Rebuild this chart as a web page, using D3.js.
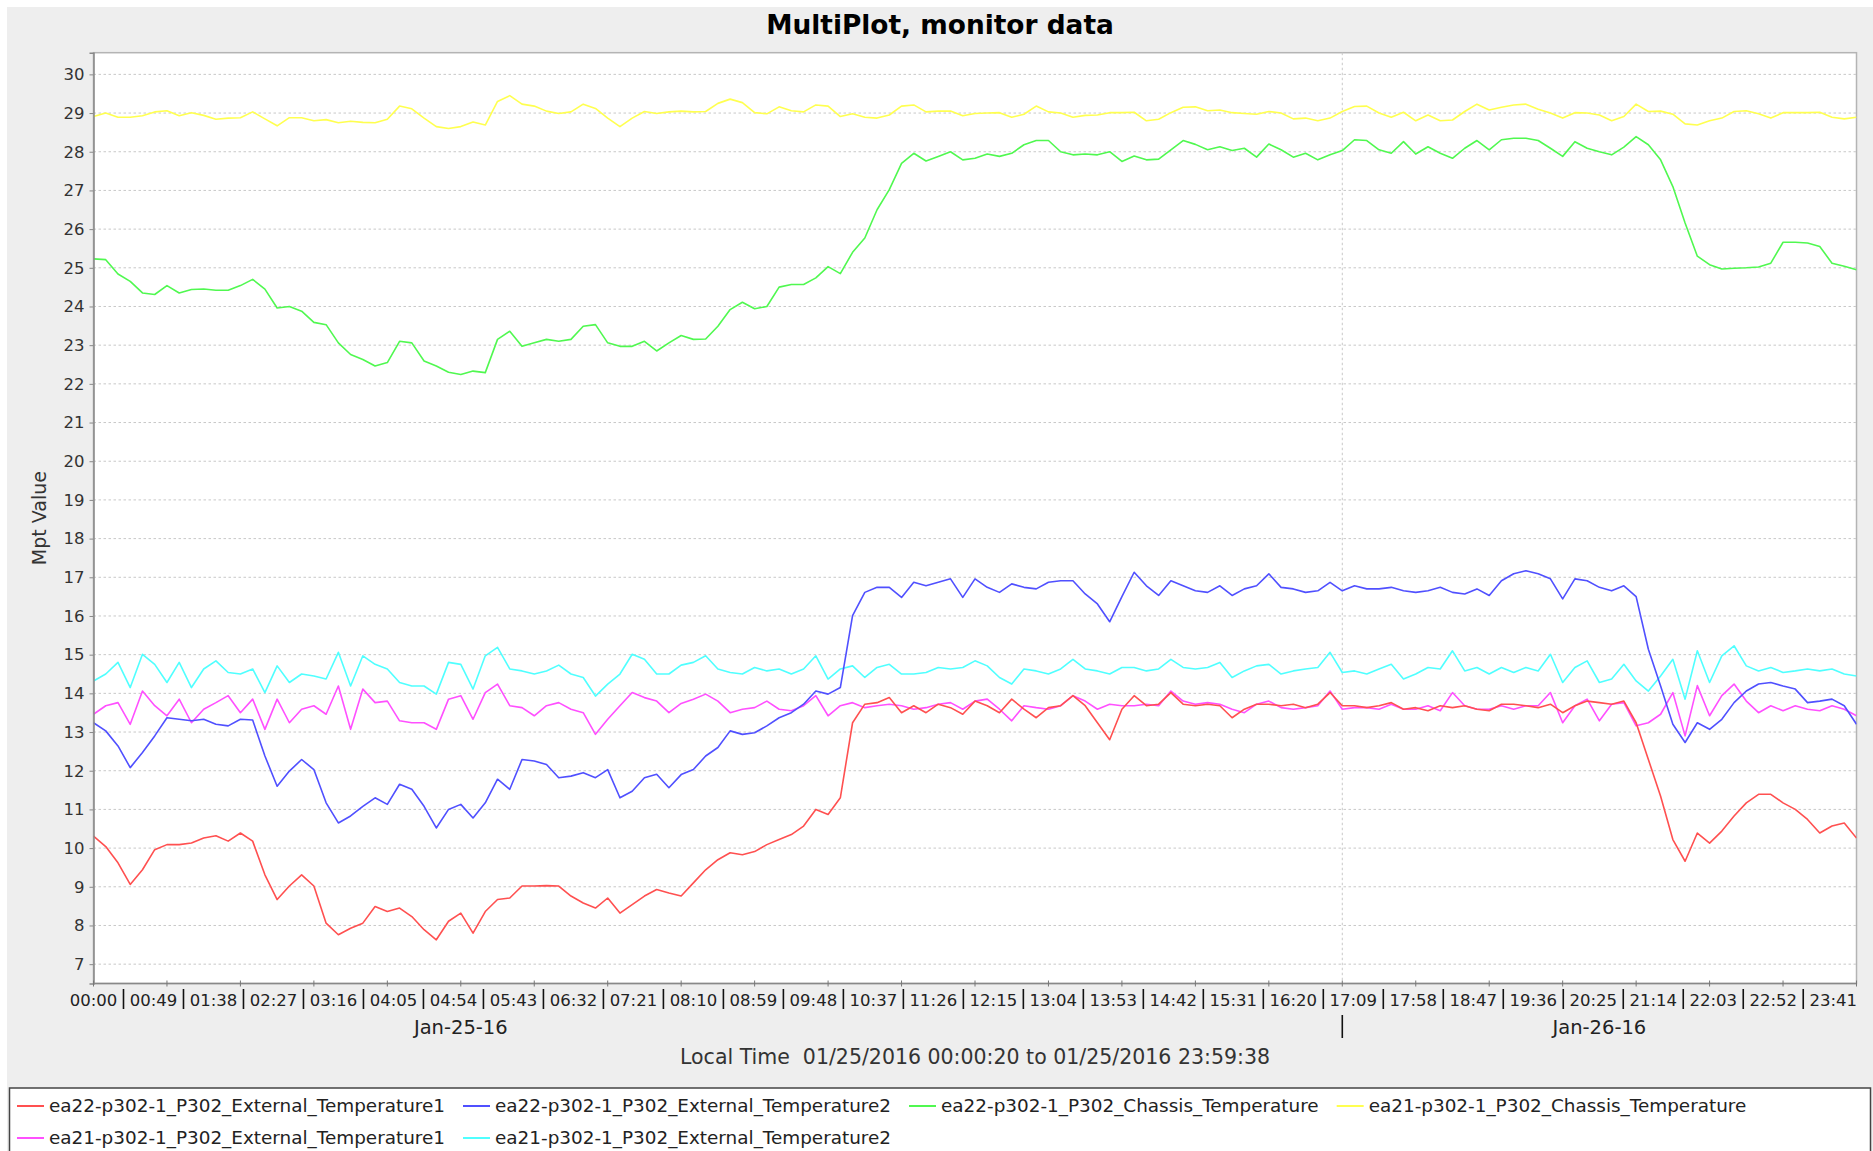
<!DOCTYPE html>
<html>
<head>
<meta charset="utf-8">
<script src="https://cdn.jsdelivr.net/npm/d3@7"></script>
<style>
  body { margin: 0; background: #fff; }
  svg text { font-family: "DejaVu Sans", sans-serif; fill: #333; }
</style>
</head>
<body>
<svg id="chart" width="1873" height="1151"></svg>
<script>
/*global d3*/

// ---- data (one sample every 10 minutes) ----
var day = "2016-01-25";
var sampleStep = 10; // minutes

var ea22Ext1 = [10.31,10.04,9.62,9.06,9.44,9.96,10.09,10.09,10.13,10.26,10.32,10.18,10.39,10.18,9.31,8.67,9.02,9.31,9.02,8.06,
  7.76,7.93,8.06,8.49,8.36,8.45,8.23,7.89,7.63,8.11,8.32,7.8,8.36,8.67,8.71,9.02,9.02,9.03,9.02,8.76,
  8.58,8.45,8.71,8.32,8.54,8.76,8.93,8.84,8.76,9.1,9.44,9.7,9.88,9.83,9.91,10.09,10.22,10.35,10.57,11.0,
  10.87,11.3,13.24,13.72,13.76,13.89,13.5,13.68,13.5,13.72,13.63,13.46,13.8,13.68,13.5,13.85,13.59,13.37,13.63,13.68,
  13.94,13.68,13.24,12.8,13.59,13.94,13.68,13.72,14.02,13.72,13.68,13.72,13.68,13.37,13.59,13.72,13.72,13.68,13.72,13.63,
  13.72,14.02,13.68,13.68,13.63,13.68,13.76,13.59,13.63,13.55,13.68,13.63,13.68,13.59,13.55,13.72,13.72,13.68,13.63,13.72,
  13.5,13.68,13.8,13.76,13.72,13.8,13.24,12.29,11.34,10.22,9.66,10.39,10.13,10.44,10.83,11.17,11.39,11.39,11.17,11.0,
  10.74,10.39,10.57,10.65,10.26];

var ea22Ext2 = [13.24,13.03,12.64,12.08,12.47,12.9,13.37,13.33,13.29,13.33,13.2,13.16,13.33,13.31,12.38,11.6,11.99,12.29,12.03,11.17,
  10.65,10.83,11.08,11.3,11.13,11.65,11.52,11.08,10.52,11.0,11.13,10.78,11.17,11.78,11.52,12.29,12.25,12.16,11.82,11.86,
  11.95,11.82,12.03,11.3,11.47,11.82,11.91,11.56,11.9,12.03,12.38,12.6,13.03,12.94,12.98,13.16,13.37,13.5,13.72,14.06,
  13.98,14.15,16.01,16.61,16.74,16.74,16.48,16.87,16.78,16.87,16.96,16.48,16.96,16.74,16.61,16.83,16.74,16.7,16.87,16.91,
  16.91,16.57,16.31,15.85,16.5,17.13,16.78,16.53,16.91,16.78,16.65,16.61,16.78,16.53,16.7,16.78,17.09,16.74,16.7,16.61,
  16.65,16.87,16.65,16.78,16.7,16.7,16.74,16.65,16.61,16.65,16.74,16.61,16.57,16.7,16.53,16.91,17.09,17.17,17.09,16.96,
  16.44,16.96,16.91,16.74,16.65,16.78,16.5,15.14,14.19,13.2,12.73,13.24,13.07,13.33,13.76,14.06,14.24,14.28,14.19,14.11,
  13.76,13.8,13.85,13.68,13.2];

var ea22Chassis = [25.23,25.21,24.84,24.65,24.35,24.31,24.54,24.35,24.44,24.45,24.42,24.42,24.54,24.7,24.45,23.96,24.0,23.88,23.59,23.53,
  23.06,22.76,22.63,22.46,22.55,23.1,23.06,22.59,22.46,22.3,22.24,22.33,22.29,23.15,23.36,22.97,23.06,23.15,23.1,23.15,
  23.49,23.53,23.06,22.97,22.97,23.1,22.85,23.06,23.25,23.15,23.16,23.49,23.92,24.11,23.94,24.0,24.5,24.57,24.57,24.74,
  25.03,24.85,25.4,25.77,26.5,27.02,27.7,27.96,27.76,27.88,28.0,27.79,27.83,27.94,27.88,27.96,28.18,28.29,28.29,28.0,
  27.92,27.94,27.92,28.0,27.75,27.89,27.79,27.81,28.05,28.29,28.19,28.05,28.13,28.03,28.09,27.86,28.2,28.05,27.86,27.96,
  27.79,27.92,28.03,28.31,28.29,28.05,27.96,28.26,27.94,28.13,27.96,27.83,28.09,28.29,28.05,28.31,28.35,28.35,28.29,28.09,
  27.88,28.26,28.09,28.0,27.92,28.12,28.39,28.18,27.79,27.1,26.16,25.3,25.08,24.97,24.99,25.0,25.02,25.12,25.66,25.66,
  25.64,25.55,25.12,25.04,24.95];

var ea21Chassis = [28.91,29.0,28.89,28.89,28.93,29.03,29.06,28.93,29.01,28.94,28.84,28.87,28.88,29.03,28.85,28.67,28.88,28.88,28.8,28.83,
  28.75,28.79,28.76,28.75,28.84,29.18,29.11,28.87,28.65,28.6,28.65,28.77,28.69,29.3,29.45,29.23,29.18,29.05,28.99,29.03,
  29.23,29.12,28.87,28.65,28.87,29.04,28.99,29.03,29.05,29.03,29.04,29.25,29.36,29.27,29.01,28.98,29.16,29.06,29.03,29.21,
  29.18,28.91,28.98,28.89,28.87,28.95,29.18,29.21,29.03,29.05,29.05,28.93,28.99,29.0,29.01,28.89,28.97,29.18,29.03,29.0,
  28.89,28.94,28.95,29.01,29.01,29.02,28.8,28.84,29.01,29.15,29.16,29.06,29.08,29.01,28.99,28.97,29.04,29.0,28.85,28.87,
  28.8,28.87,29.04,29.17,29.18,29.0,28.89,29.02,28.8,28.95,28.8,28.82,29.04,29.23,29.08,29.15,29.21,29.23,29.1,29.0,
  28.87,29.01,29.0,28.95,28.8,28.91,29.23,29.04,29.05,28.97,28.72,28.69,28.8,28.87,29.04,29.06,28.98,28.87,29.01,29.01,
  29.01,29.02,28.89,28.85,28.89];

var ea21Ext1 = [13.46,13.68,13.76,13.2,14.06,13.68,13.42,13.85,13.24,13.59,13.76,13.94,13.5,13.85,13.07,13.85,13.24,13.59,13.68,13.46,
  14.19,13.07,14.11,13.76,13.8,13.29,13.24,13.24,13.07,13.85,13.94,13.33,14.02,14.24,13.68,13.63,13.42,13.68,13.76,13.59,
  13.5,12.94,13.33,13.68,14.02,13.89,13.8,13.5,13.74,13.85,13.98,13.8,13.5,13.59,13.63,13.8,13.59,13.55,13.68,13.94,
  13.42,13.68,13.76,13.63,13.68,13.72,13.68,13.59,13.63,13.72,13.76,13.59,13.8,13.85,13.59,13.29,13.68,13.63,13.59,13.68,
  13.94,13.8,13.59,13.72,13.68,13.68,13.72,13.68,14.06,13.8,13.72,13.76,13.72,13.59,13.5,13.72,13.8,13.63,13.59,13.63,
  13.68,14.06,13.59,13.63,13.63,13.59,13.72,13.59,13.59,13.68,13.55,14.02,13.68,13.59,13.59,13.68,13.59,13.68,13.68,14.02,
  13.24,13.68,13.85,13.29,13.72,13.76,13.16,13.24,13.46,14.02,12.9,14.2,13.42,13.94,14.24,13.8,13.5,13.68,13.55,13.68,
  13.59,13.55,13.68,13.59,13.42];

var ea21Ext2 = [14.32,14.5,14.8,14.15,15.01,14.75,14.28,14.8,14.15,14.63,14.84,14.54,14.5,14.63,14.02,14.71,14.28,14.5,14.45,14.37,
  15.06,14.19,14.97,14.75,14.63,14.28,14.19,14.19,13.98,14.8,14.75,14.11,14.97,15.19,14.63,14.58,14.5,14.58,14.73,14.5,
  14.41,13.93,14.24,14.5,15.01,14.88,14.5,14.5,14.73,14.8,14.97,14.63,14.54,14.5,14.67,14.58,14.63,14.5,14.63,14.97,
  14.37,14.63,14.71,14.41,14.67,14.75,14.5,14.5,14.54,14.67,14.63,14.67,14.84,14.71,14.41,14.24,14.63,14.58,14.5,14.63,
  14.88,14.63,14.58,14.5,14.67,14.67,14.58,14.63,14.88,14.67,14.63,14.67,14.8,14.41,14.58,14.71,14.75,14.5,14.58,14.63,
  14.67,15.06,14.54,14.58,14.5,14.63,14.75,14.37,14.5,14.67,14.63,15.1,14.58,14.67,14.5,14.67,14.54,14.67,14.58,15.01,
  14.28,14.67,14.84,14.28,14.37,14.75,14.32,14.06,14.45,14.88,13.85,15.1,14.28,14.97,15.23,14.71,14.58,14.67,14.54,14.58,
  14.63,14.58,14.63,14.5,14.45];

var seriesNames = [
  "ea22-p302-1_P302_External_Temperature1",
  "ea22-p302-1_P302_External_Temperature2",
  "ea22-p302-1_P302_Chassis_Temperature",
  "ea21-p302-1_P302_Chassis_Temperature",
  "ea21-p302-1_P302_External_Temperature1",
  "ea21-p302-1_P302_External_Temperature2"
];
var seriesValues = [ea22Ext1, ea22Ext2, ea22Chassis, ea21Chassis, ea21Ext1, ea21Ext2];
var seriesColors = ["#ff5050", "#5050ff", "#50f850", "#ffff50", "#ff50ff", "#50ffff"];

var yTicks = d3.range(7, 31);
var periodLabels = ["00:00","00:49","01:38","02:27","03:16","04:05","04:54","05:43","06:32","07:21",
  "08:10","08:59","09:48","10:37","11:26","12:15","13:04","13:53","14:42","15:31",
  "16:20","17:09","17:58","18:47","19:36","20:25","21:14","22:03","22:52","23:41"];
var dateLabels = ["Jan-25-16", "Jan-26-16"];
var dateLabelTimes = ["05:00", "20:30"];
var dayBoundary = "17:00";

// ---- layout ----
var W = 1873, H = 1151;
var plot = {left: 93.5, top: 52.7, right: 1856.5, bottom: 983.5};

var svg = d3.select("#chart");
var parseTime = d3.timeParse("%Y-%m-%d %H:%M");
var at = function (hhmm) { return parseTime(day + " " + hhmm); };
var start = at("00:00");
var sampleDate = function (i) { return d3.timeMinute.offset(start, i * sampleStep); };

var x = d3.scaleTime()
    .domain([start, d3.timeDay.offset(start, 1)])
    .range([plot.left, plot.right]);
var y = d3.scaleLinear()
    .domain([6.5, 30.56])
    .range([plot.bottom, plot.top]);

// panel background
svg.append("rect")
    .attr("x", 7).attr("y", 7)
    .attr("width", W - 7).attr("height", H - 7)
    .attr("fill", "#eeeeee");

svg.append("text")
    .attr("x", 940).attr("y", 34)
    .attr("text-anchor", "middle")
    .style("font-size", "26.4px")
    .style("font-weight", "bold")
    .style("fill", "#000")
    .text("MultiPlot, monitor data");

svg.append("rect")
    .attr("x", plot.left).attr("y", plot.top)
    .attr("width", plot.right - plot.left)
    .attr("height", plot.bottom - plot.top)
    .attr("fill", "#fff")
    .attr("stroke", "#b4b4b4")
    .attr("stroke-width", 1.5);

// gridlines
svg.append("g")
    .selectAll("line")
    .data(yTicks)
    .join("line")
      .attr("x1", plot.left).attr("x2", plot.right)
      .attr("y1", y).attr("y2", y)
      .attr("stroke", "#c8c8c8")
      .attr("stroke-dasharray", "2.5,2.5");

svg.append("line")
    .attr("x1", x(at(dayBoundary))).attr("x2", x(at(dayBoundary)))
    .attr("y1", plot.top).attr("y2", plot.bottom)
    .attr("stroke", "#c8c8c8")
    .attr("stroke-dasharray", "2.5,2.5");

// series, drawn in reverse so the first one ends up on top
svg.append("clipPath").attr("id", "plotClip")
  .append("rect")
    .attr("x", plot.left).attr("y", plot.top)
    .attr("width", plot.right - plot.left)
    .attr("height", plot.bottom - plot.top);

var line = d3.line()
    .x(function (d, i) { return x(sampleDate(i)); })
    .y(function (d) { return y(d); });

svg.append("g")
    .attr("clip-path", "url(#plotClip)")
    .selectAll("path")
    .data(d3.range(seriesValues.length).reverse())
    .join("path")
      .attr("d", function (k) { return line(seriesValues[k]); })
      .attr("fill", "none")
      .attr("stroke", function (k) { return seriesColors[k]; })
      .attr("stroke-width", 1.6)
      .attr("stroke-linejoin", "round");

// y axis
var yAxis = svg.append("g")
    .attr("transform", "translate(" + plot.left + ",0)")
    .call(d3.axisLeft(y).tickValues(yTicks).tickSize(4).tickPadding(5).tickFormat(d3.format("d")));
yAxis.select(".domain").attr("stroke", "#888").attr("stroke-width", 1.5);
yAxis.selectAll(".tick line").attr("stroke", "#888");
yAxis.selectAll(".tick text")
    .style("font-size", "16.5px")
    .style("font-family", "DejaVu Sans, sans-serif")
    .style("fill", "#333");

svg.append("text")
    .attr("transform", "translate(46," + ((plot.top + plot.bottom) / 2) + ") rotate(-90)")
    .attr("text-anchor", "middle")
    .style("font-size", "19px")
    .text("Mpt Value");

// x axis: hourly ticks across the axis line, 49 minute period labels below
svg.append("line")
    .attr("x1", plot.left).attr("x2", plot.right)
    .attr("y1", plot.bottom).attr("y2", plot.bottom)
    .attr("stroke", "#888")
    .attr("stroke-width", 1.5);

svg.append("g")
    .selectAll("line")
    .data(x.ticks(d3.timeHour.every(1)))
    .join("line")
      .attr("x1", x).attr("x2", x)
      .attr("y1", plot.bottom - 3).attr("y2", plot.bottom + 3)
      .attr("stroke", "#777");

var periodDates = periodLabels.map(at);

svg.append("g")
    .selectAll("text")
    .data(periodLabels)
    .join("text")
      .attr("x", function (d, i) { return x(periodDates[i]); })
      .attr("y", 1006)
      .attr("text-anchor", "middle")
      .style("font-size", "16.5px")
      .style("fill", "#222")
      .text(function (d) { return d; });

svg.append("g")
    .selectAll("line")
    .data(d3.pairs(periodDates))
    .join("line")
      .attr("x1", function (p) { return x(new Date((+p[0] + +p[1]) / 2)); })
      .attr("x2", function (p) { return x(new Date((+p[0] + +p[1]) / 2)); })
      .attr("y1", 989).attr("y2", 1009)
      .attr("stroke", "#111")
      .attr("stroke-width", 1.6);

svg.append("g")
    .selectAll("text")
    .data(dateLabels)
    .join("text")
      .attr("x", function (d, i) { return x(at(dateLabelTimes[i])); })
      .attr("y", 1034)
      .attr("text-anchor", "middle")
      .style("font-size", "19.5px")
      .style("fill", "#222")
      .text(function (d) { return d; });

svg.append("line")
    .attr("x1", x(at(dayBoundary))).attr("x2", x(at(dayBoundary)))
    .attr("y1", 1015).attr("y2", 1038)
    .attr("stroke", "#111")
    .attr("stroke-width", 1.6);

svg.append("text")
    .attr("x", (plot.left + plot.right) / 2)
    .attr("y", 1064)
    .attr("text-anchor", "middle")
    .style("font-size", "20.5px")
    .style("white-space", "pre")
    .text("Local Time  01/25/2016 00:00:20 to 01/25/2016 23:59:38");

// legend, items flow left to right and wrap
svg.append("rect")
    .attr("x", 9.5).attr("y", 1088)
    .attr("width", 1861).attr("height", 80)
    .attr("fill", "#fff")
    .attr("stroke", "#444")
    .attr("stroke-width", 1.5);

var legend = svg.append("g");
var lx = 17, ly = 1106;
seriesNames.forEach(function (name, k) {
  var item = legend.append("g");
  var label = item.append("text")
      .attr("x", 32).attr("y", 0)
      .attr("dy", "0.35em")
      .style("font-size", "18.4px")
      .style("fill", "#222")
      .text(name);
  var w = 32 + label.node().getComputedTextLength();
  if (lx + w > 1862) {
    lx = 17;
    ly += 32;
  }
  item.attr("transform", "translate(" + lx + "," + ly + ")");
  item.append("line")
      .attr("x1", 0).attr("x2", 27)
      .attr("stroke", seriesColors[k])
      .attr("stroke-width", 2);
  lx += w + 18;
});
</script>
</body>
</html>
